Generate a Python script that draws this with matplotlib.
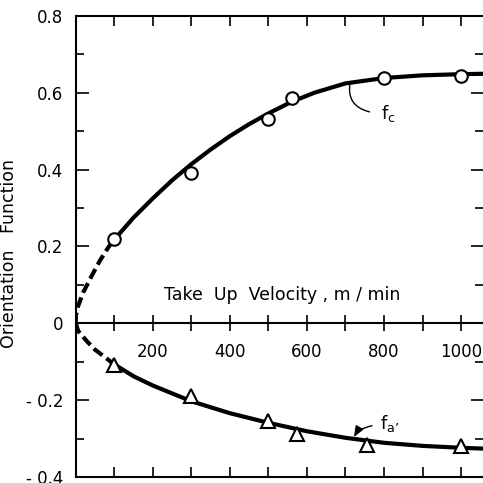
import numpy as np
import matplotlib.pyplot as plt

plt.rcParams["font.family"] = "DejaVu Sans"
plt.rcParams["mathtext.fontset"] = "dejavusans"

# measured points
fc_x = [100, 300, 500, 560, 800, 1000]
fc_y = [0.218, 0.39, 0.532, 0.585, 0.637, 0.642]
fa_x = [100, 300, 500, 573, 755, 1000]
fa_y = [-0.109, -0.189, -0.254, -0.288, -0.317, -0.319]

# fitted curves (dashed part near the origin)
fc_dash_x = [0, 0, 6, 19, 41, 62, 84, 100]
fc_dash_y = [0, 0.02, 0.045, 0.08, 0.123, 0.162, 0.197, 0.218]
fc_line_x = [100, 150, 200, 250, 300, 350, 400, 450, 500, 560, 620, 700, 800, 900, 1000, 1055]
fc_line_y = [0.218, 0.275, 0.325, 0.372, 0.414, 0.452, 0.487, 0.518, 0.546, 0.576, 0.600, 0.624, 0.638, 0.645, 0.648, 0.649]

fa_dash_x = [0, 6, 28, 49, 75, 100]
fa_dash_y = [0, -0.02, -0.046, -0.068, -0.088, -0.107]
fa_line_x = [100, 150, 200, 300, 400, 500, 600, 700, 800, 900, 1000, 1055]
fa_line_y = [-0.107, -0.138, -0.162, -0.203, -0.234, -0.259, -0.281, -0.298, -0.311, -0.319, -0.324, -0.326]

fig = plt.figure(figsize=(4.83, 4.83), dpi=100)
ax = fig.add_axes([0.157, 0.0124, 0.843, 0.955])

ax.plot(fc_dash_x, fc_dash_y, color="black", lw=3, ls=(0, (2.6, 1.2)), solid_capstyle="butt")
ax.plot(fc_line_x, fc_line_y, color="black", lw=3)
ax.plot(fa_dash_x, fa_dash_y, color="black", lw=3, ls=(0, (2.6, 1.2)), solid_capstyle="butt")
ax.plot(fa_line_x, fa_line_y, color="black", lw=3)

ax.plot(fc_x, fc_y, "o", ms=9, mfc="white", mec="black", mew=1.5, zorder=5)
ax.plot(fa_x, fa_y, "^", ms=10, mfc="white", mec="black", mew=1.5, zorder=5)

ax.set_xlim(0, 1057)
ax.set_ylim(-0.4, 0.8)

# y axis
ax.set_yticks([-0.4, -0.2, 0, 0.2, 0.4, 0.6, 0.8])
ax.set_yticklabels(["- 0.4", "- 0.2", "0", "0.2", "0.4", "0.6", "0.8"])
ax.set_yticks(np.arange(-0.3, 0.8, 0.2), minor=True)
ax.tick_params(axis="y", which="major", direction="in", length=9, width=1.2,
               labelsize=12, pad=9, right=True)
ax.tick_params(axis="y", which="minor", direction="in", length=6, width=1.2, right=True)

# x ticks on the frame, no labels
ax.set_xticks(np.arange(100, 1001, 100))
ax.tick_params(axis="x", direction="in", length=7, width=1.2, top=True, labelbottom=False)

ax.spines["right"].set_visible(False)
for s in ["left", "top", "bottom"]:
    ax.spines[s].set_linewidth(1.5)

# zero line with its own axis
sec = ax.secondary_xaxis(1 / 3)
sec.set_xticks(np.arange(100, 1001, 100))
sec.set_xticklabels(["" if v % 200 else str(v) for v in range(100, 1001, 100)])
sec.tick_params(direction="inout", length=12, width=1.2, labelsize=12, pad=8)
sec.spines["bottom"].set_linewidth(1.5)

ax.text(535, 0.073, "Take  Up  Velocity , m / min", fontsize=12.5, ha="center", va="center")
ax.set_ylabel("Orientation   Function", fontsize=12.5)
ax.yaxis.set_label_coords(-0.142, 0.484)

# curve labels
ax.annotate(r"f$_\mathregular{c}$", xy=(712, 0.626), xytext=(810, 0.545), fontsize=13,
            ha="center", va="center",
            arrowprops=dict(arrowstyle="-", lw=1, color="black",
                            connectionstyle="angle3,angleA=0,angleB=80", shrinkA=6, shrinkB=0))
ax.annotate(r"f$_\mathregular{a’}$", xy=(722, -0.296), xytext=(815, -0.262), fontsize=13,
            ha="center", va="center",
            arrowprops=dict(arrowstyle="-|>,head_length=0.5,head_width=0.2", lw=1, color="black",
                            connectionstyle="angle3,angleA=0,angleB=60", shrinkA=4, shrinkB=0))

fig.savefig("out.png", dpi=100)
